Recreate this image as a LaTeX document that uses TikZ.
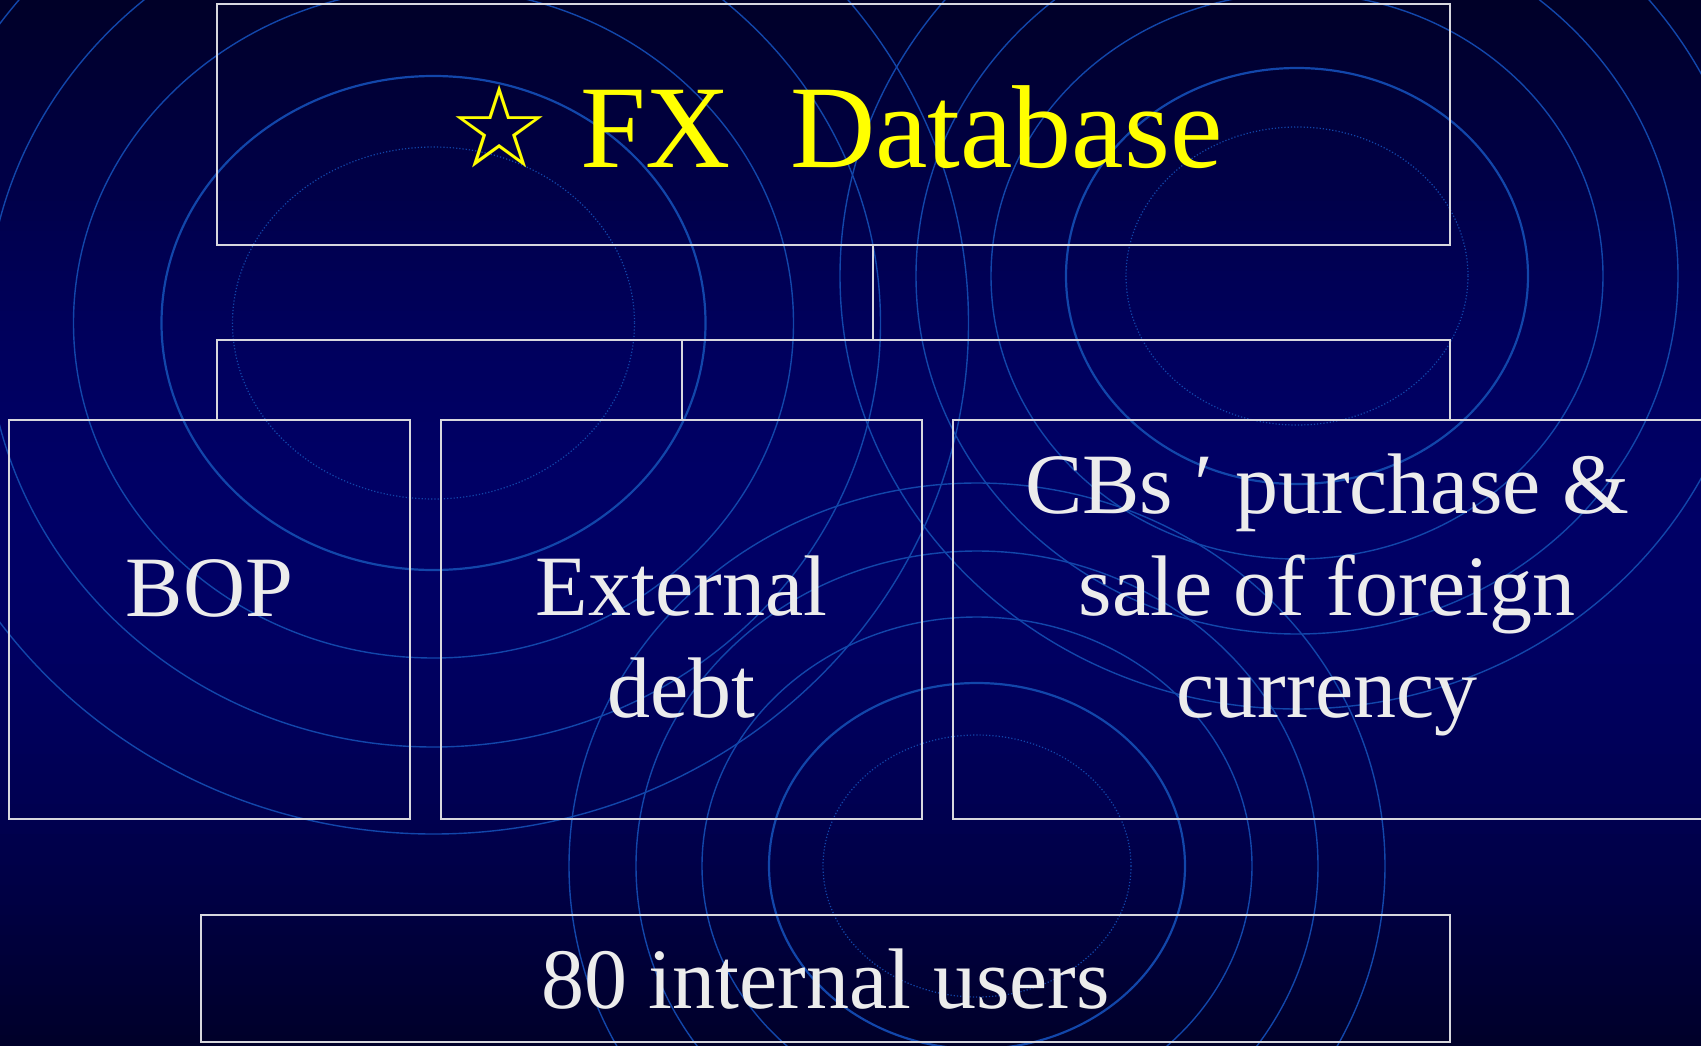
\documentclass[tikz,border=0pt]{standalone}
\usepackage{fontspec}
\setmainfont{Liberation Serif}
\newfontfamily\starfont{DejaVu Sans}
\definecolor{bgtop}{RGB}{0,0,40}
\definecolor{bgmid}{RGB}{0,0,102}
\definecolor{bgbot}{RGB}{0,0,42}
\definecolor{ringblue}{RGB}{18,70,170}
\definecolor{boxline}{RGB}{215,215,222}
\definecolor{textwhite}{RGB}{236,236,236}
\definecolor{titleyellow}{RGB}{255,255,0}
\begin{document}
\begin{tikzpicture}[x=1pt,y=-1pt,
    ring/.style={draw=ringblue,line width=1.4pt},
    mainring/.style={draw=ringblue,line width=2.2pt},
    dotring/.style={draw=ringblue,line width=1.2pt,dotted},
    box/.style={draw=boxline,line width=2pt,inner sep=0pt,outer sep=0pt},
    link/.style={draw=boxline,line width=2pt},
    boxtext/.style={text=textwhite,font=\fontsize{86}{102}\selectfont,align=center,inner sep=0pt}]
    \clip (0,0) rectangle (1701,1045);
    % background, in thin bands from dark to mid blue and back
    \foreach \i in {0,...,52} {
      \pgfmathtruncatemacro{\p}{100*sin(90*\i/52)}
      \fill[bgmid!\p!bgtop] (0,\i*10.05-0.5) rectangle (1701,\i*10.05+10.6);
      \fill[bgmid!\p!bgbot] (0,1045.5-\i*10.05) rectangle (1701,1045-\i*10.05-10.6);
    }
    % background rings
    \draw[dotring] (433.5,323) ellipse[x radius=201,y radius=176];
    \draw[mainring] (433.5,323) ellipse[x radius=272,y radius=247];
    \draw[ring] (433.5,323) ellipse[x radius=360,y radius=335] (433.5,323) ellipse[x radius=447,y radius=424] (433.5,323) ellipse[x radius=535,y radius=511];
    \draw[dotring] (1297,276) ellipse[x radius=171,y radius=149];
    \draw[mainring] (1297,276) ellipse[x radius=231,y radius=208];
    \draw[ring] (1297,276) ellipse[x radius=306,y radius=283] (1297,276) ellipse[x radius=381,y radius=358] (1297,276) ellipse[x radius=457,y radius=433];
    \draw[dotring] (977,866) ellipse[x radius=154,y radius=131];
    \draw[mainring] (977,866) ellipse[x radius=208,y radius=183];
    \draw[ring] (977,866) ellipse[x radius=275,y radius=249] (977,866) ellipse[x radius=341,y radius=315] (977,866) ellipse[x radius=408,y radius=383];
    % boxes
    \node[box,minimum width=1233pt,minimum height=241pt] (fx) at (833.5,124.5) {};
    \node[box,minimum width=401pt,minimum height=399pt] (bop) at (209.5,619.5) {};
    \node[box,minimum width=481pt,minimum height=399pt] (debt) at (681.5,619.5) {};
    \node[box,minimum width=752pt,minimum height=399pt] (cbs) at (1329,619.5) {};
    \node[box,minimum width=1249pt,minimum height=127pt] (users) at (825.5,978.5) {};
    % connectors
    \coordinate (hub) at (873,340);
    \coordinate (hubl) at (217,340);
    \coordinate (hubr) at (1450,340);
    \draw[link] (fx.south -| hub) -- (hub);
    \draw[link] (bop.north -| hubl) -- (hubl) -- (hubr) -- (cbs.north -| hubr);
    \draw[link] (debt.north) -- (debt.north |- hub);
    % texts (base = last line)
    \node[anchor=base,inner sep=0pt,text=titleyellow,font=\fontsize{118}{130}\selectfont] (fxtext) at (835.5,167) {{\starfont\fontsize{114}{130}\selectfont ☆} FX~~Database};
    \node[boxtext,anchor=base] (boptext) at (209.5,616) {BOP};
    \node[boxtext,anchor=base] (debttext) at (681.5,717) {External\\debt};
    \node[boxtext,anchor=base] (cbstext) at (1327,717) {CBs ′ purchase \&\\sale of foreign\\currency};
    \node[boxtext,anchor=base] (userstext) at (825.5,1008) {80 internal users};
\end{tikzpicture}
\end{document}
